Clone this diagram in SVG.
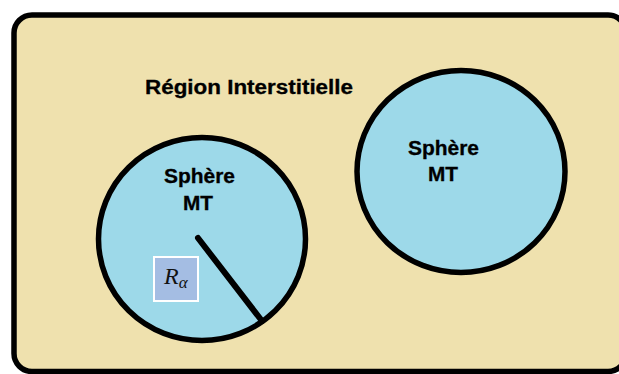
<svg xmlns="http://www.w3.org/2000/svg" width="619" height="374" viewBox="0 0 619 374">
<style>
.lbl{font-family:"Liberation Sans",Arial,sans-serif;font-weight:bold;font-size:20px;fill:#000;stroke:#000;stroke-width:0.3}
.sph{fill:#9DD9E9;stroke:#000;stroke-width:5.5}
</style>
<rect width="619" height="374" fill="#fff"/>
<g id="region">
<rect x="14" y="15" width="612" height="356.5" rx="18" ry="18" fill="#EFE1AE" stroke="#000" stroke-width="5.5"/>
<text class="lbl" x="145" y="94" textLength="208" lengthAdjust="spacingAndGlyphs">Région Interstitielle</text>
</g>
<g id="sphere1">
<ellipse class="sph" cx="202" cy="239" rx="103.5" ry="101.5"/>
<text class="lbl" x="164" y="182.7" textLength="71" lengthAdjust="spacingAndGlyphs">Sphère</text>
<text class="lbl" x="183" y="209.5" textLength="30" lengthAdjust="spacingAndGlyphs">MT</text>
</g>
<g id="sphere2">
<ellipse class="sph" cx="461" cy="171.5" rx="104" ry="101"/>
<text class="lbl" x="408" y="154.5" textLength="71" lengthAdjust="spacingAndGlyphs">Sphère</text>
<text class="lbl" x="428" y="181" textLength="30" lengthAdjust="spacingAndGlyphs">MT</text>
</g>
<g id="connectors">
<line x1="198" y1="238" x2="262" y2="321" stroke="#000" stroke-width="6" stroke-linecap="round"/>
</g>
<g id="ralpha">
<rect x="154" y="257" width="44" height="44" fill="#A4BDE3" stroke="#fff" stroke-width="2"/>
<text x="164" y="284" font-family="'Liberation Serif','DejaVu Serif',serif" font-style="italic" font-size="24" fill="#111">R<tspan font-size="17" dy="4">α</tspan></text>
</g>
</svg>
